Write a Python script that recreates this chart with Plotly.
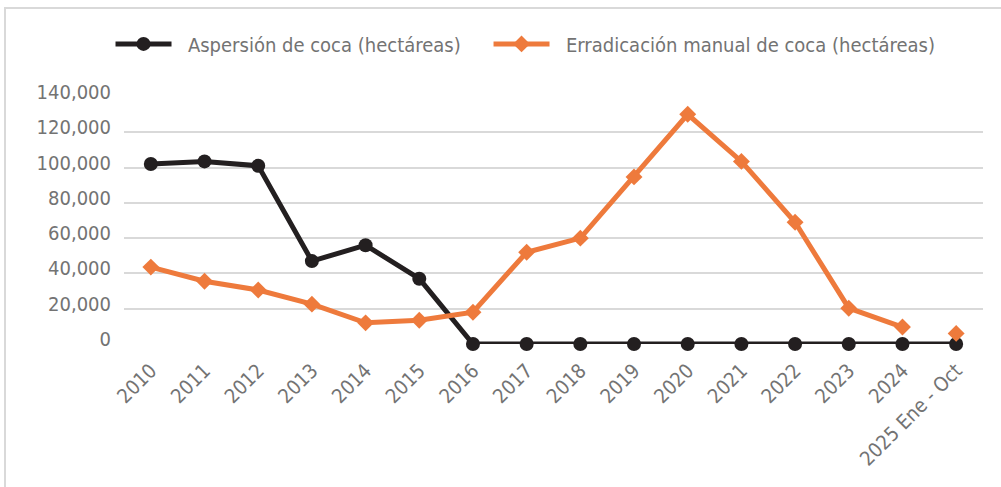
import plotly.graph_objects as go

years = ["2010", "2011", "2012", "2013", "2014", "2015", "2016", "2017",
         "2018", "2019", "2020", "2021", "2022", "2023", "2024", "2025 Ene - Oct"]
aspersion = [102000, 103500, 101000, 47000, 56000, 37000, 0, 0,
             0, 0, 0, 0, 0, 0, 0, 0]
erradicacion = [43600, 35600, 30600, 22600, 12000, 13500, 18000, 52000,
                60000, 94700, 130200, 103500, 69000, 20300, 9600, 6000]
y_ticks = [0, 20000, 40000, 60000, 80000, 100000, 120000, 140000]
y_ticklabels = ["0", "20,000", "40,000", "60,000", "80,000", "100,000", "120,000", "140,000"]
series_names = ["Aspersión de coca (hectáreas)", "Erradicación manual de coca (hectáreas)"]

FONT = "DejaVu Sans Condensed, Roboto, sans-serif"
GRAY = "#737373"
BLACK = "#231F20"
ORANGE = "#EE7A3C"
PAD = "\u00a0\u00a0"
TRAIL = "\u00a0" * 4

fig = go.Figure()
fig.add_trace(go.Scatter(
    x=years, y=aspersion, mode="lines+markers",
    name=PAD + series_names[0] + TRAIL, cliponaxis=False,
    line=dict(color=BLACK, width=5),
    marker=dict(symbol="circle", size=14, color=BLACK),
))
fig.add_trace(go.Scatter(
    x=years[:-1], y=erradicacion[:-1], mode="lines+markers",
    name=PAD + series_names[1], cliponaxis=False,
    line=dict(color=ORANGE, width=5),
    marker=dict(symbol="diamond", size=13, color=ORANGE),
))
fig.add_trace(go.Scatter(
    x=years[-1:], y=erradicacion[-1:], mode="markers",
    showlegend=False, cliponaxis=False,
    marker=dict(symbol="diamond", size=13, color=ORANGE),
))

fig.update_layout(
    width=1001, height=487,
    margin=dict(l=124, r=18, t=97, b=143, autoexpand=False),
    paper_bgcolor="white", plot_bgcolor="white",
    font=dict(family=FONT, color=GRAY, size=20),
    legend=dict(orientation="h", x=-0.0157, xanchor="left", y=1.215, yanchor="middle",
                font=dict(family=FONT, size=20, color=GRAY), itemwidth=56,
                traceorder="normal", bgcolor="rgba(0,0,0,0)"),
    xaxis=dict(type="category", categoryorder="array", categoryarray=years,
               range=[-0.5, 15.5], tickangle=-45, showgrid=False,
               showline=False, zeroline=False, ticks="", automargin=False,
               ticklabelstandoff=10,
               tickfont=dict(family=FONT, size=20, color=GRAY)),
    yaxis=dict(range=[0, 140000], tickvals=y_ticks, ticktext=y_ticklabels,
               showgrid=True, gridcolor="#D9D9D9", gridwidth=2,
               zeroline=False, showline=False, ticks="", automargin=False,
               ticklabelstandoff=12, ticklabelshift=-5,
               tickfont=dict(family=FONT, size=20, color=GRAY)),
    shapes=[
        dict(type="rect", xref="paper", yref="paper",
             x0=(5 - 124) / 859, x1=(1010 - 124) / 859,
             y0=(344 - 500) / 247, y1=(344 - 8) / 247,
             line=dict(color="#D9D9D9", width=2), layer="below"),
    ],
)

fig.write_html("out.html", config={"displayModeBar": False},
               post_script="document.body.style.margin='0';document.body.style.overflow='hidden';")
